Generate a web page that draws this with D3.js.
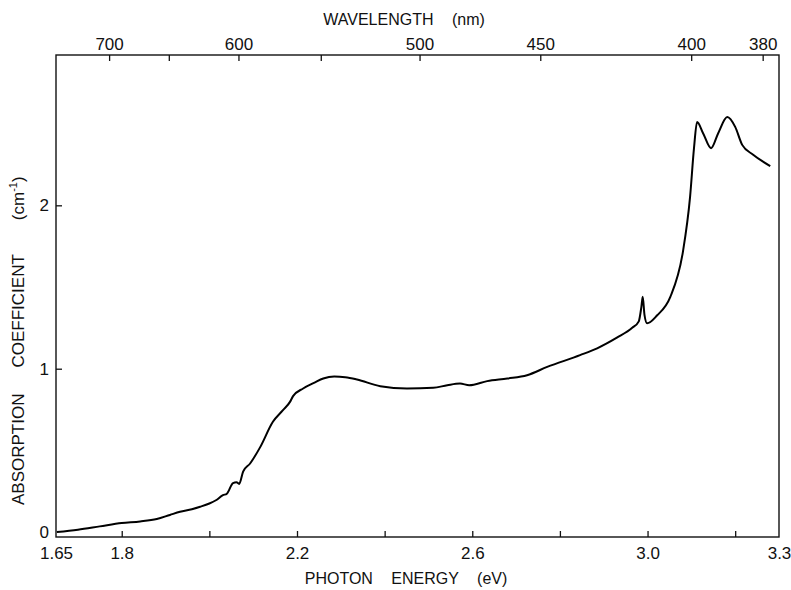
<!DOCTYPE html>
<html>
<head>
<meta charset="utf-8">
<script src="https://cdn.jsdelivr.net/npm/d3@7"></script>
<style>
  body { margin: 0; background: #fff; }
  svg text { font-family: "Liberation Sans", Arial, sans-serif; fill: #111; }
</style>
</head>
<body>
<div class="chart"></div>
<script>
// photon energy (eV) and absorption coefficient (cm-1)
var energy = [1.652, 1.70, 1.75, 1.80, 1.842, 1.88, 1.91, 1.933, 1.96, 1.979,
  2.0, 2.015, 2.031, 2.04, 2.054, 2.062, 2.068, 2.077, 2.093, 2.116,
  2.145, 2.168, 2.184, 2.191, 2.214, 2.24, 2.26, 2.285, 2.31, 2.337, 2.39,
  2.451, 2.511, 2.543, 2.572, 2.593, 2.634, 2.68, 2.725, 2.771, 2.846,
  2.885, 2.93, 2.965, 2.980, 2.986, 2.989, 2.993, 2.999, 3.022, 3.052,
  3.081, 3.097, 3.106, 3.113, 3.127, 3.145, 3.161, 3.182, 3.2, 3.216,
  3.241, 3.28];
var absorb = [0.0, 0.015, 0.035, 0.055, 0.065, 0.08, 0.105, 0.124, 0.14, 0.155,
  0.175, 0.195, 0.226, 0.235, 0.30, 0.305, 0.295, 0.37, 0.42, 0.52,
  0.675, 0.746, 0.797, 0.832, 0.879, 0.915, 0.94, 0.952, 0.948, 0.934, 0.893,
  0.879, 0.883, 0.899, 0.909, 0.899, 0.924, 0.94, 0.96, 1.011, 1.083,
  1.125, 1.19, 1.25, 1.29, 1.38, 1.44, 1.33, 1.278, 1.327, 1.44,
  1.72, 2.05, 2.35, 2.51, 2.44, 2.35, 2.44, 2.54, 2.48, 2.37,
  2.31, 2.24];

var energyTicks = [1.8, 2.0, 2.2, 2.4, 2.6, 2.8, 3.0, 3.2];
var energyLabels = [1.65, 1.8, 2.2, 2.6, 3.0, 3.3];
var nmTicks = [700, 650, 600, 550, 500, 450, 400, 380];
var nmLabels = [700, 600, 500, 450, 400, 380];
var absTicks = [1, 2];
var absLabels = [0, 1, 2];

var width = 791, height = 590;
var pLeft = 56, pRight = 779, pTop = 55, pBottom = 537;

var svg = d3.select(".chart").append("svg")
  .attr("width", width)
  .attr("height", height);

var x = d3.scaleLinear().domain([1.65, 3.3]).range([pLeft, pRight]);
var y = d3.scaleLinear().domain([-0.03, 2.92]).range([pBottom, pTop]);

function eV(nm) { return 1239.84 / nm; }

// inward ticks, no labels
svg.append("g")
  .attr("transform", "translate(0," + pBottom + ")")
  .call(d3.axisBottom(x).tickValues(energyTicks).tickSize(-6).tickFormat(""));
svg.append("g")
  .attr("transform", "translate(0," + pTop + ")")
  .call(d3.axisTop(x).tickValues(nmTicks.map(eV)).tickSize(-6).tickFormat(""));
svg.append("g")
  .attr("transform", "translate(" + pLeft + ",0)")
  .call(d3.axisLeft(y).tickValues(absTicks).tickSize(-6).tickFormat(""));

// labels only
svg.append("g")
  .attr("class", "lab")
  .attr("transform", "translate(0," + pBottom + ")")
  .call(d3.axisBottom(x).tickValues(energyLabels).tickSize(0).tickPadding(10)
    .tickFormat(function(d) { return d === 1.65 ? "1.65" : d3.format(".1f")(d); }));
svg.append("g")
  .attr("class", "lab")
  .attr("transform", "translate(0," + pTop + ")")
  .call(d3.axisTop(x).tickValues(nmLabels.map(eV)).tickSize(0).tickPadding(5)
    .tickFormat(function(d) { return Math.round(1239.84 / d); }));
svg.append("g")
  .attr("class", "lab")
  .attr("transform", "translate(" + pLeft + ",0)")
  .call(d3.axisLeft(y).tickValues(absLabels).tickSize(0).tickPadding(7)
    .tickFormat(d3.format("d")));

svg.selectAll(".domain").remove();
svg.selectAll(".tick line").attr("stroke", "#111").attr("stroke-width", 1.3);
svg.selectAll(".lab text").attr("font-size", 17).attr("fill", "#111");

// frame
svg.append("rect")
  .attr("x", pLeft).attr("y", pTop)
  .attr("width", pRight - pLeft).attr("height", pBottom - pTop)
  .attr("fill", "none")
  .attr("stroke", "#111")
  .attr("stroke-width", 1.4);

var line = d3.line()
  .x(function(d, i) { return x(energy[i]); })
  .y(function(d) { return y(d); })
  .curve(d3.curveMonotoneX);

svg.append("path")
  .datum(absorb)
  .attr("d", line)
  .attr("fill", "none")
  .attr("stroke", "#000")
  .attr("stroke-width", 2);

// axis titles
svg.append("text")
  .attr("x", 406).attr("y", 584)
  .attr("text-anchor", "middle")
  .attr("font-size", 16)
  .attr("word-spacing", 14)
  .text("PHOTON ENERGY (eV)");

svg.append("text")
  .attr("x", 404).attr("y", 25)
  .attr("text-anchor", "middle")
  .attr("font-size", 16)
  .attr("word-spacing", 14)
  .text("WAVELENGTH (nm)");

var ylab = svg.append("text")
  .attr("transform", "translate(24,505) rotate(-90)")
  .attr("text-anchor", "start")
  .attr("font-size", 17);
ylab.append("tspan").text("ABSORPTION");
ylab.append("tspan").attr("dx", 26).text("COEFFICIENT");
ylab.append("tspan").attr("dx", 34).text("(cm");
ylab.append("tspan").attr("dy", -7).attr("font-size", 11).text("-1");
ylab.append("tspan").attr("dy", 7).text(")");
</script>
</body>
</html>
